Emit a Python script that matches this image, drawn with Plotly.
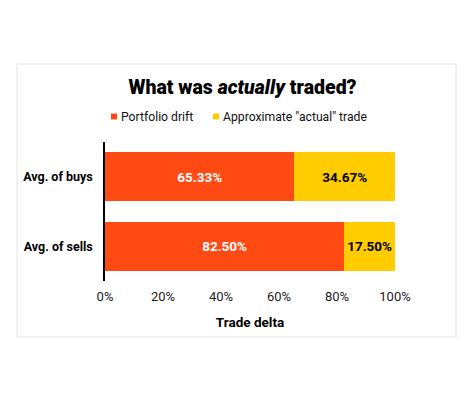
import plotly.graph_objects as go

categories = ["Avg. of buys", "Avg. of sells"]
drift = [65.33, 82.50]
actual = [34.67, 17.50]
series_names = ["Portfolio drift", 'Approximate "actual" trade']
tick_vals = [0, 20, 40, 60, 80, 100]
tick_text = ["0%", "20%", "40%", "60%", "80%", "100%"]

ORANGE = "#FF4A14"
YELLOW = "#FFCC00"
FONT = "Roboto"

fig = go.Figure()
fig.add_trace(go.Bar(
    name=series_names[0], y=categories, x=drift, orientation="h",
    marker=dict(color=ORANGE, line=dict(width=0)),
    texttemplate="%{x:.2f}%", textposition="inside", insidetextanchor="middle",
    textfont=dict(color="white", size=13.5, family=FONT, weight=700),
    hoverinfo="skip", showlegend=False,
))
fig.add_trace(go.Bar(
    name=series_names[1], y=categories, x=actual, orientation="h",
    marker=dict(color=YELLOW, line=dict(width=0)),
    texttemplate="%{x:.2f}%", textposition="inside", insidetextanchor="middle",
    textfont=dict(color="black", size=13.5, family=FONT, weight=700),
    hoverinfo="skip", showlegend=False,
))

L, R, T, B = 105, 79, 142, 116
W, H = 474, 397
pw, ph = W - L - R, H - T - B

def px_x(x):
    return (x - L) / pw

def px_y(y):
    return (H - B - y) / ph

# manual legend (small squares + labels), laid out like the original
legend_items = [(series_names[0], ORANGE, 111), (series_names[1], YELLOW, 213)]
shapes = [dict(
    type="rect", xref="paper", yref="paper",
    x0=px_x(17), x1=px_x(456), y0=px_y(337), y1=px_y(64),
    line=dict(color="#E4E4E4", width=1), fillcolor="rgba(0,0,0,0)", layer="below",
)]
annotations = []
for name, color, x0 in legend_items:
    shapes.append(dict(
        type="rect", xref="paper", yref="paper",
        x0=px_x(x0), x1=px_x(x0 + 6), y0=px_y(119.5), y1=px_y(113.5),
        line=dict(width=0), fillcolor=color,
    ))
    annotations.append(dict(
        text=name, xref="paper", yref="paper",
        x=px_x(x0 + 8), y=px_y(116.5), xanchor="left", yanchor="middle",
        showarrow=False, font=dict(size=12.2, family=FONT, color="#111111"),
    ))

fig.update_layout(
    width=W, height=H,
    margin=dict(l=L, r=R, t=T, b=B, autoexpand=False),
    paper_bgcolor="white", plot_bgcolor="white",
    barmode="stack", bargap=0.29,
    font=dict(family=FONT, color="#111111"),
    showlegend=False,
    title=dict(
        text="What was <i>actually</i> traded?",
        x=242.5 / W, xanchor="center", xref="container",
        y=1 - 87 / H, yanchor="middle", yref="container",
        font=dict(size=19.5, family=FONT, weight=900, color="black"),
    ),
    xaxis=dict(
        range=[0, 100], tickvals=tick_vals, ticktext=tick_text,
        showgrid=False, zeroline=False, showline=False,
        tickfont=dict(size=13, family=FONT, color="#222222"),
        ticks="", ticklabelstandoff=6, automargin=False,
        title=dict(text="<b>Trade delta</b>", font=dict(size=13.5, family=FONT, color="black"), standoff=14),
        fixedrange=True,
    ),
    yaxis=dict(
        categoryorder="array", categoryarray=categories, autorange="reversed",
        showgrid=False, zeroline=False, showline=True, linecolor="black", linewidth=1.5,
        ticks="", ticklabelstandoff=8, automargin=False,
        tickfont=dict(size=12.5, family=FONT, color="black", weight=700),
        fixedrange=True,
    ),
    shapes=shapes,
    annotations=annotations,
)

fig.write_html("out.html", config={"displayModeBar": False},
               post_script="document.body.style.margin='0';")
